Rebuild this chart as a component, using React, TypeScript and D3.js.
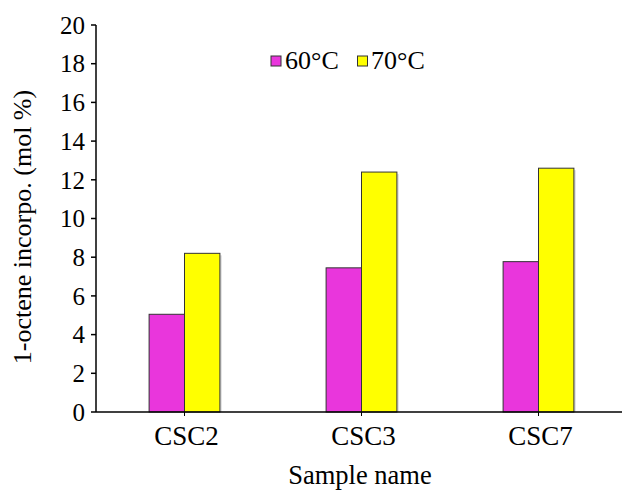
import React from "react";
import * as d3 from "d3";

const categories = ["CSC2", "CSC3", "CSC7"];
const seriesNames = ["60°C", "70°C"];
const values60 = [5.05, 7.45, 7.77];
const values70 = [8.2, 12.4, 12.6];
const yTicks = [0, 2, 4, 6, 8, 10, 12, 14, 16, 18, 20];
const colors = ["#E936DC", "#FFFF00"];

const W = 627;
const H = 490;
const FONT = "'Liberation Serif', 'Times New Roman', serif";

export default function App() {
  const left = 96;
  const right = 627;
  const top = 25;
  const bottom = 412;

  const x = d3.scaleBand<string>().domain(categories).range([left, right]);
  const y = d3.scaleLinear().domain([0, 20]).range([bottom, top]);
  const groupW = x.step() * 0.4;
  const x1 = d3.scaleBand<string>().domain(seriesNames).range([0, groupW]);
  const series = [values60, values70];

  return (
    <svg width={W} height={H} style={{ position: "absolute", left: 0, top: 0 }} fontFamily={FONT}>
      <rect width={W} height={H} fill="#fff" />
      {categories.map((c, i) => {
        const gx = (x(c) as number) + x.bandwidth() / 2 - groupW / 2;
        return (
          <g key={c}>
            {series.map((vals, s) => {
              const bx = gx + (x1(seriesNames[s]) as number);
              const by = y(vals[i]);
              const bh = bottom - by;
              return (
                <g key={s}>
                  <rect x={bx + 2} y={by + 2} width={x1.bandwidth()} height={bh - 2} fill="#000" opacity={0.12} />
                  <rect x={bx} y={by} width={x1.bandwidth()} height={bh} fill={colors[s]} stroke="#333" strokeWidth={1} />
                </g>
              );
            })}
          </g>
        );
      })}
      {/* axes */}
      <line x1={left} x2={622} y1={bottom} y2={bottom} stroke="#000" strokeWidth={1.5} />
      <line x1={left} x2={left} y1={top} y2={bottom} stroke="#000" strokeWidth={1.5} />
      {yTicks.map((t) => (
        <g key={t}>
          <line x1={left - 5} x2={left} y1={y(t)} y2={y(t)} stroke="#000" strokeWidth={1.5} />
          <text x={85} y={y(t)} dy="0.35em" textAnchor="end" fontSize={25} fill="#000">
            {t}
          </text>
        </g>
      ))}
      {categories.map((c) => (
        <g key={c}>
          <line
            x1={(x(c) as number) + x.bandwidth() / 2}
            x2={(x(c) as number) + x.bandwidth() / 2}
            y1={bottom}
            y2={bottom + 4}
            stroke="#000"
            strokeWidth={1}
          />
          <text x={(x(c) as number) + x.bandwidth() / 2 + 2} y={445} textAnchor="middle" fontSize={27} fill="#000">
            {c}
          </text>
        </g>
      ))}
      <text x={360} y={484} textAnchor="middle" fontSize={26.5} fill="#000">
        Sample name
      </text>
      <text
        transform={`translate(31,227) rotate(-90)`}
        textAnchor="middle"
        fontSize={26}
        fill="#000"
      >
        1-octene incorpo. (mol %)
      </text>
      {/* legend */}
      <rect x={271} y={56} width={10} height={10} fill={colors[0]} stroke="#333" strokeWidth={1} />
      <text x={285} y={69} fontSize={26} fill="#000">{seriesNames[0]}</text>
      <rect x={357.5} y={56} width={10} height={10} fill={colors[1]} stroke="#333" strokeWidth={1} />
      <text x={371} y={69} fontSize={26} fill="#000">{seriesNames[1]}</text>
    </svg>
  );
}
